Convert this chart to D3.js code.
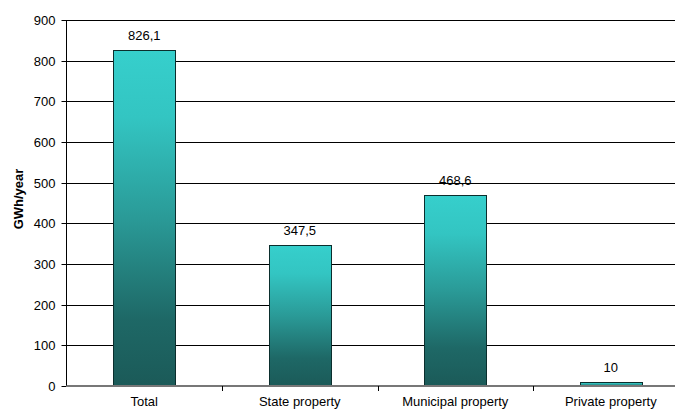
<!DOCTYPE html>
<html><head><meta charset="utf-8">
<script src="https://cdn.jsdelivr.net/npm/d3@7"></script>
<style>
html,body{margin:0;padding:0;background:#fff;overflow:hidden}
svg{display:block;font-family:"Liberation Sans",Arial,sans-serif}
</style></head><body>
<svg id="c" width="675" height="409"></svg>
<script>
const categories = ["Total", "State property", "Municipal property", "Private property"];
const values = [826.1, 347.5, 468.6, 10];
const valueLabels = ["826,1", "347,5", "468,6", "10"];
const yTicks = [0, 100, 200, 300, 400, 500, 600, 700, 800, 900];
const yTitle = "GWh/year";

const svg = d3.select("#c");
const mLeft = 66.5, mRight = 688.5, mTop = 20, mBottom = 386;
const FS = 13;
const x = d3.scaleBand().domain(categories).range([mLeft, mRight]).paddingInner(0).paddingOuter(0);
const y = d3.scaleLinear().domain([0, 900]).range([mBottom, mTop]);

const defs = svg.append("defs");
const g = defs.append("linearGradient").attr("id", "grad").attr("x1", 0).attr("y1", 0).attr("x2", 0).attr("y2", 1);
[["0%", "#36cfcc"], ["20%", "#33c5c2"], ["50%", "#2a9a97"], ["80%", "#1e6866"], ["100%", "#1b5a58"]]
  .forEach(s => g.append("stop").attr("offset", s[0]).attr("stop-color", s[1]));

// gridlines
svg.append("g").selectAll("line").data(yTicks.slice(1)).join("line")
  .attr("x1", mLeft).attr("x2", 675).attr("y1", d => Math.round(y(d)) + 0.5).attr("y2", d => Math.round(y(d)) + 0.5)
  .attr("stroke", "#000").attr("stroke-width", 1);

// y axis
const ya = svg.append("g").attr("transform", `translate(${mLeft},0)`)
  .call(d3.axisLeft(y).tickValues(yTicks).tickSize(5).tickPadding(6).tickFormat(d3.format("d")));
ya.select(".domain").attr("stroke", "#000").attr("d", `M0,${mTop}V${mBottom}`);
ya.selectAll(".tick line").attr("stroke", "#000");
ya.selectAll(".tick").attr("transform", d => `translate(0,${Math.round(y(d)) + 0.5})`);
ya.selectAll("text").attr("font-size", FS).attr("fill", "#000").attr("font-family", "Liberation Sans, Arial, sans-serif");

// bars
const bw = x.bandwidth() * 0.4;
svg.append("g").selectAll("rect").data(values).join("rect")
  .attr("x", (d, i) => Math.round(x(categories[i]) + x.bandwidth() / 2 - bw / 2) + 0.5)
  .attr("y", d => Math.round(y(d)) + 0.5)
  .attr("width", Math.round(bw))
  .attr("height", d => mBottom - Math.round(y(d)))
  .attr("fill", "url(#grad)")
  .attr("stroke", "#0b2e2d").attr("stroke-width", 1);

// x axis
const xa = svg.append("g").attr("transform", `translate(0,${mBottom})`)
  .call(d3.axisBottom(x).tickSize(0).tickPadding(11));
xa.select(".domain").attr("stroke", "#777").attr("stroke-width", 2).attr("d", `M${mLeft},0H675`);
xa.selectAll("text").attr("font-size", FS).attr("fill", "#000").attr("font-family", "Liberation Sans, Arial, sans-serif");
// category separator ticks
svg.append("g").selectAll("line").data(categories.slice(1)).join("line")
  .attr("x1", d => Math.round(x(d)) + 0.5).attr("x2", d => Math.round(x(d)) + 0.5)
  .attr("y1", mBottom).attr("y2", mBottom + 5).attr("stroke", "#000");

// value labels
svg.append("g").selectAll("text").data(values).join("text")
  .attr("x", (d, i) => x(categories[i]) + x.bandwidth() / 2)
  .attr("y", d => y(d) - 10)
  .attr("text-anchor", "middle").attr("font-size", FS).attr("fill", "#000")
  .text((d, i) => valueLabels[i]);

// y title
svg.append("text").attr("transform", "translate(23,199) rotate(-90)")
  .attr("text-anchor", "middle").attr("font-size", FS).attr("font-weight", "bold").text(yTitle);
</script></body></html>
